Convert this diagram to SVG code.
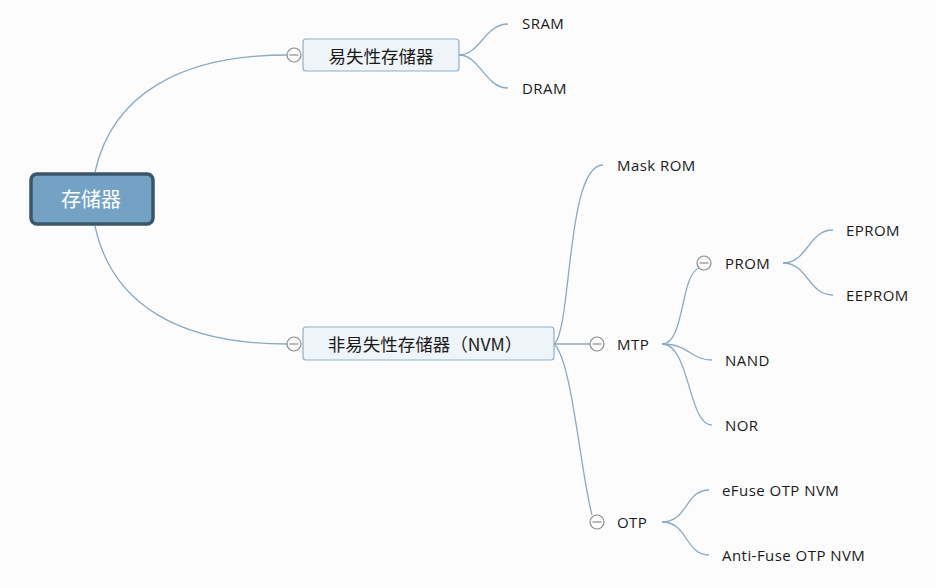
<svg xmlns="http://www.w3.org/2000/svg" width="936" height="588" viewBox="0 0 936 588">
  <style>
    .bg { fill: #fcfcfd; }
    .link { fill: none; stroke: #8aaac2; stroke-width: 1.3; }
    .topic { fill: #eef4f8; stroke: #8fb0c8; stroke-width: 1.2; }
    .fold { fill: #fcfcfd; stroke: #8c8c8c; stroke-width: 1.2; }
    .fold-bar { stroke: #8c8c8c; stroke-width: 1.2; }
    .cjk { font-family: "Noto Sans CJK SC", "Microsoft YaHei", sans-serif; font-size: 17.5px; fill: #1a1a1a; }
    .leaf { font-family: "Open Sans", "Noto Sans", sans-serif; font-size: 15px; letter-spacing: 0.45px; fill: #1a1a1a; }
  </style>
  <defs>
    <g id="fold">
      <circle class="fold" r="7"/>
      <line class="fold-bar" x1="-4.5" y1="0" x2="4.5" y2="0"/>
    </g>
  </defs>

  <rect class="bg" width="936" height="588"/>

  <!-- connectors -->
  <g id="connectors">
    <path class="link" d="M95,172 C112,95 180,55 287,55"/>
    <path class="link" d="M95,226 C112,305 180,344 287,344"/>
    <path class="link" d="M459,55 C480,55 485,24 508,24"/>
    <path class="link" d="M459,55 C480,55 485,88 508,88"/>
    <path class="link" d="M554,344 C572,330 566,165 603,165"/>
    <path class="link" d="M554,344 L590,344"/>
    <path class="link" d="M554,344 C572,360 580,470 592,515"/>
    <path class="link" d="M662,344 C685,344 680,275 699,268"/>
    <path class="link" d="M662,344 C690,344 690,360 712,360"/>
    <path class="link" d="M662,344 C690,344 688,425 712,425"/>
    <path class="link" d="M783,263 C808,263 808,230 833,230"/>
    <path class="link" d="M783,263 C808,263 808,295 833,295"/>
    <path class="link" d="M662,522 C688,522 685,490 709,490"/>
    <path class="link" d="M662,522 C688,522 685,555 709,555"/>
  </g>

  <!-- root -->
  <g id="root">
    <rect x="31" y="174" width="122" height="50" rx="6" fill="#74a2c4" stroke="#3c5569" stroke-width="3.5"/>
    <text x="91" y="207" text-anchor="middle" font-family="Noto Sans CJK SC, Microsoft YaHei, sans-serif" font-size="20" fill="#ffffff">存储器</text>
  </g>

  <!-- volatile -->
  <g id="volatile">
    <rect class="topic" x="303" y="39" width="156" height="32" rx="3"/>
    <text class="cjk" x="381" y="63" text-anchor="middle">易失性存储器</text>
    <use href="#fold" x="294" y="55"/>
  </g>
  <g id="sram"><text class="leaf" x="522" y="29">SRAM</text></g>
  <g id="dram"><text class="leaf" x="522" y="94">DRAM</text></g>

  <!-- non-volatile -->
  <g id="nvm">
    <rect class="topic" x="303" y="327" width="251" height="33" rx="3"/>
    <text class="cjk" x="425" y="351" text-anchor="middle">非易失性存储器（NVM）</text>
    <use href="#fold" x="294" y="344"/>
  </g>
  <g id="maskrom"><text class="leaf" x="617" y="171">Mask ROM</text></g>

  <g id="mtp">
    <use href="#fold" x="597" y="344"/>
    <text class="leaf" x="617" y="350">MTP</text>
  </g>
  <g id="prom">
    <use href="#fold" x="704" y="263"/>
    <text class="leaf" x="725" y="269">PROM</text>
  </g>
  <g id="eprom"><text class="leaf" x="846" y="236">EPROM</text></g>
  <g id="eeprom"><text class="leaf" x="846" y="301">EEPROM</text></g>
  <g id="nand"><text class="leaf" x="725" y="366">NAND</text></g>
  <g id="nor"><text class="leaf" x="725" y="431">NOR</text></g>

  <g id="otp">
    <use href="#fold" x="597" y="522"/>
    <text class="leaf" x="617" y="528">OTP</text>
  </g>
  <g id="efuse"><text class="leaf" x="722" y="496">eFuse OTP NVM</text></g>
  <g id="antifuse"><text class="leaf" x="722" y="561">Anti-Fuse OTP NVM</text></g>
</svg>
